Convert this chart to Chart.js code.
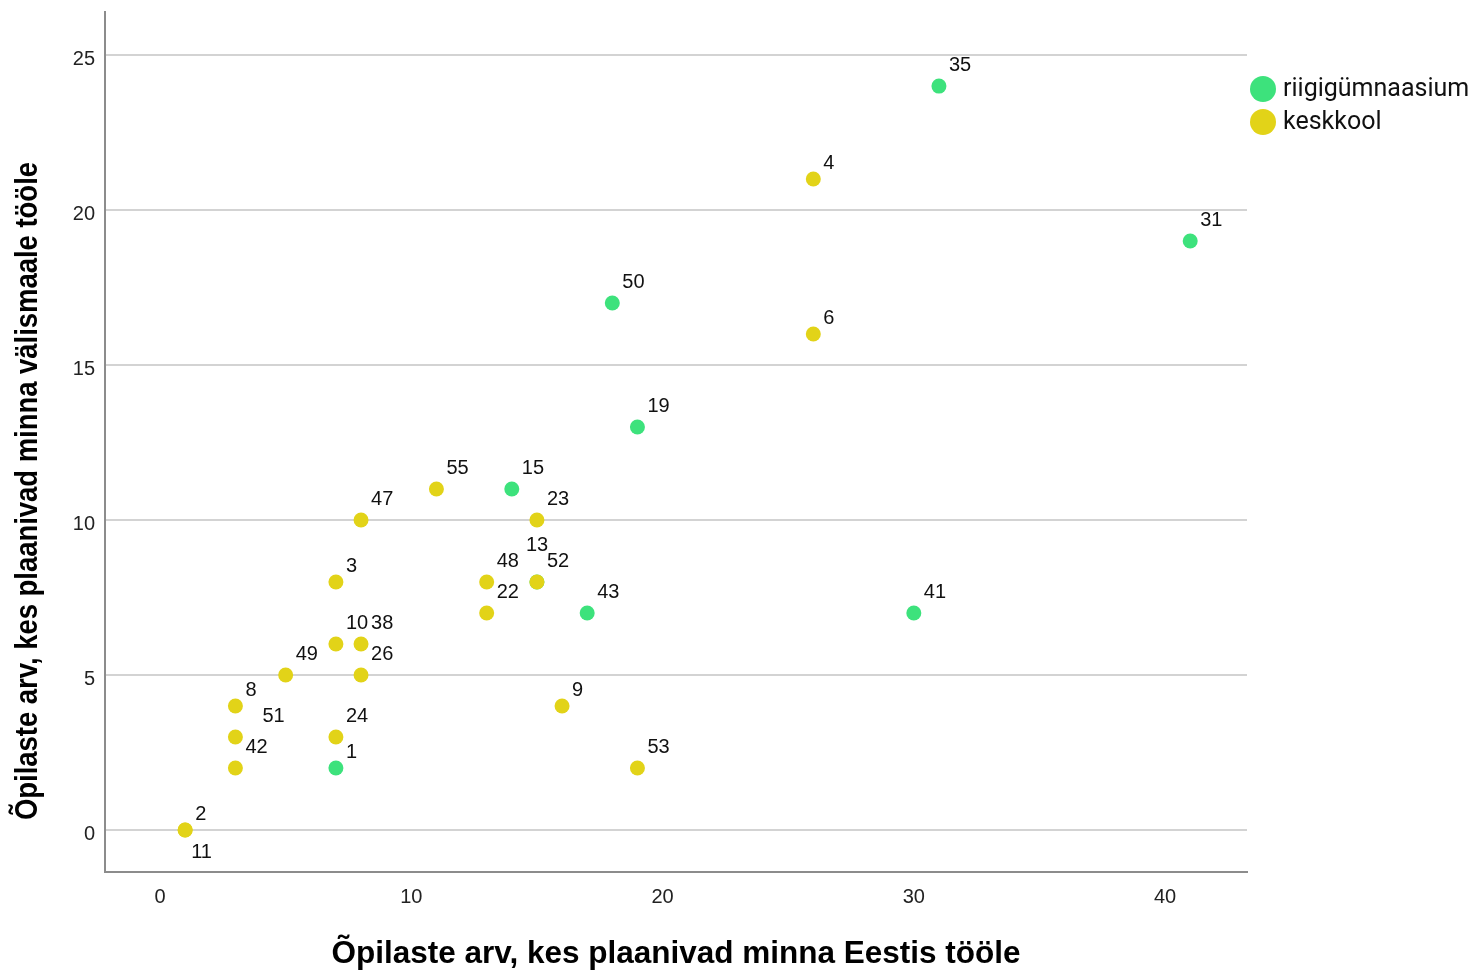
<!DOCTYPE html>
<html><head><meta charset="utf-8">
<script src="https://cdn.jsdelivr.net/npm/chart.js@4"></script>
<style>html,body{margin:0;padding:0;background:#fff}#wrap{width:1472px;height:972px;position:relative}</style>
</head><body><div id="wrap"><canvas id="c"></canvas></div>
<script>
const seriesNames = ['riigigümnaasium', 'keskkool'];
const xTitle = 'Õpilaste arv, kes plaanivad minna Eestis tööle';
const yTitle = 'Õpilaste arv, kes plaanivad minna välismaale tööle';
const xTicks = [0, 10, 20, 30, 40];
const yTicks = [0, 5, 10, 15, 20, 25];
const rgIds = [35, 31, 50, 19, 15, 13, 43, 41, 1];
const rgX   = [31, 41, 18, 19, 14, 15, 17, 30, 7];
const rgY   = [24, 19, 17, 13, 11,  8,  7,  7, 2];
const kkIds = [4, 6, 55, 47, 23, 3, 48, 52, 22, 10, 38, 26, 49, 8, 9, 51, 24, 42, 53, 2, 11];
const kkX   = [26, 26, 11, 8, 15, 7, 13, 15, 13, 7, 8, 8, 5, 3, 16, 3, 7, 3, 19, 1, 1];
const kkY   = [21, 16, 11, 10, 10, 8, 8, 8, 7, 6, 6, 5, 5, 4, 4, 3, 3, 2, 2, 0, 0];

const GREEN = '#3de27c', YELLOW = '#e2d318';
const FONT = '"Liberation Sans", Arial, sans-serif';

function pts(xs, ys) { return xs.map((x, i) => ({ x: x, y: ys[i] })); }

const special = { '11': [6, 22], '51': [27, -21], '13': [-11, -37] };

const labelPlugin = {
  id: 'pointLabels',
  afterDatasetsDraw(chart) {
    const ctx = chart.ctx;
    ctx.save();
    ctx.font = '20px ' + FONT;
    ctx.fillStyle = '#111';
    ctx.textBaseline = 'middle';
    ctx.textAlign = 'left';
    chart.data.datasets.forEach((ds, i) => {
      const meta = chart.getDatasetMeta(i);
      meta.data.forEach((el, j) => {
        const id = String(ds.ids[j]);
        let dx = 10, dy = id.length > 1 ? -21 : -16;
        if (special[id]) { dx = special[id][0]; dy = special[id][1]; }
        ctx.fillText(id, el.x + dx, el.y + dy);
      });
    });
    ctx.restore();
  }
};

const decoPlugin = {
  id: 'deco',
  afterDraw(chart) {
    const ctx = chart.ctx, ca = chart.chartArea;
    ctx.save();
    ctx.fillStyle = '#000';
    ctx.font = 'bold 31.5px ' + FONT;
    ctx.textAlign = 'center';
    ctx.textBaseline = 'alphabetic';
    ctx.fillText(xTitle, (ca.left + ca.right) / 2, 963);
    ctx.save();
    ctx.translate(37, 491);
    ctx.rotate(-Math.PI / 2);
    const w = ctx.measureText(yTitle).width;
    ctx.scale(658 / w, 1);
    ctx.fillText(yTitle, 0, 0);
    ctx.restore();
    ctx.font = '25px Roboto, ' + FONT;
    ctx.textAlign = 'left';
    ctx.textBaseline = 'middle';
    chart.data.datasets.forEach((ds, i) => {
      const cy = 89 + i * 33;
      ctx.beginPath();
      ctx.arc(1263, cy, 13, 0, Math.PI * 2);
      ctx.fillStyle = ds.backgroundColor;
      ctx.fill();
      ctx.fillStyle = '#111';
      ctx.fillText(ds.label, 1283, cy + 1);
    });
    ctx.restore();
  }
};

new Chart(document.getElementById('c'), {
  type: 'scatter',
  data: {
    datasets: [
      { label: seriesNames[0], ids: rgIds, data: pts(rgX, rgY), backgroundColor: GREEN, borderWidth: 0, pointRadius: 7.5, pointHoverRadius: 7.5, order: 1 },
      { label: seriesNames[1], ids: kkIds, data: pts(kkX, kkY), backgroundColor: YELLOW, borderWidth: 0, pointRadius: 7.5, pointHoverRadius: 7.5, order: 0 }
    ]
  },
  options: {
    responsive: true,
    maintainAspectRatio: false,
    animation: false,
    layout: { padding: { top: 12, right: 225, left: 0, bottom: 0 } },
    plugins: { legend: { display: false }, tooltip: { enabled: false } },
    scales: {
      x: {
        type: 'linear', min: -2.19, max: 43.26,
        afterBuildTicks(s) { s.ticks = xTicks.map(v => ({ value: v })); },
        afterFit(s) { s.height = 100; s.paddingLeft = 0; s.paddingRight = 0; },
        grid: { display: false, drawTicks: false, tickLength: 0 },
        border: { display: true, color: '#8c8c8c', width: 2 },
        ticks: { padding: 13, color: '#222', font: { size: 20, family: FONT } }
      },
      y: {
        type: 'linear', min: -1.355, max: 26.39,
        afterBuildTicks(s) { s.ticks = yTicks.map(v => ({ value: v })); },
        afterFit(s) { s.width = 105; s.paddingTop = 0; s.paddingBottom = 0; },
        grid: { color: '#d3d3d3', lineWidth: 2, drawTicks: false, tickLength: 0 },
        border: { display: true, color: '#8c8c8c', width: 2 },
        ticks: { padding: 10, labelOffset: 4, color: '#222', font: { size: 20, family: FONT } }
      }
    }
  },
  plugins: [labelPlugin, decoPlugin]
});
</script>
</body></html>
